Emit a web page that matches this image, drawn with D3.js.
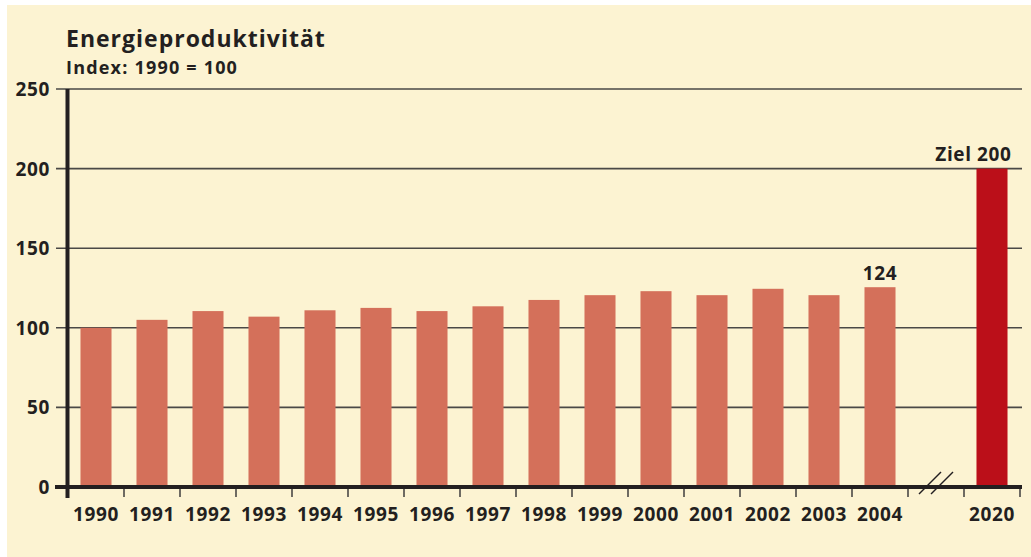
<!DOCTYPE html>
<html>
  <head>
    <style>
      body { margin: 0; background: #fff; }
      text { font-family: "Open Sans", sans-serif; font-weight: 700; fill: #231f20; }
    </style>
  </head>

  <body>

    <svg class="surface" width="1031" height="557"></svg>

    <script src="https://cdn.jsdelivr.net/npm/d3@7/dist/d3.min.js" charset="utf-8"></script>
    <script>

      // data
      const years = ['1990', '1991', '1992', '1993', '1994', '1995', '1996', '1997',
                     '1998', '1999', '2000', '2001', '2002', '2003', '2004', '2020']
      const values = [100, 105, 110.5, 107, 111, 112.5, 110.5, 113.5,
                      117.5, 120.5, 123, 120.5, 124.5, 120.5, 125.5, 200]
      const slots = ['1990', '1991', '1992', '1993', '1994', '1995', '1996', '1997',
                     '1998', '1999', '2000', '2001', '2002', '2003', '2004', 'break', '2020']
      const yTicks = [0, 50, 100, 150, 200, 250]
      const labelYears = ['2004', '2020']
      const labelTexts = ['124', 'Ziel 200']
      const title = 'Energieproduktivität'
      const subtitle = 'Index: 1990 = 100'

      const surface = d3.select('.surface')

      const x = d3.scaleBand()
        .domain(slots)
        .range([68, 1020])
        .paddingInner(0.446)
        .paddingOuter(0.223)

      const y = d3.scaleLinear()
        .domain([0, 250])
        .range([487, 89])

      const step = x.step()

      surface.append('rect')
        .attr('x', 7).attr('y', 5)
        .attr('width', 1031 - 7).attr('height', 557 - 5)
        .attr('fill', '#fcf3d2')

      // grid lines
      surface.selectAll('line.grid')
        .data(yTicks.filter(d => d > 0))
        .enter()
        .append('line')
          .attr('class', 'grid')
          .attr('x1', 56)
          .attr('x2', 1022)
          .attr('y1', d => y(d))
          .attr('y2', d => y(d))
          .attr('stroke', '#4a4846')
          .attr('stroke-width', 1.6)

      // bars
      surface.selectAll('rect.bar')
        .data(years)
        .enter()
        .append('rect')
          .attr('class', 'bar')
          .attr('x', d => x(d))
          .attr('width', x.bandwidth())
          .attr('y', (d, i) => y(values[i]))
          .attr('height', (d, i) => y(0) - y(values[i]))
          .attr('fill', d => d === '2020' ? '#bb0f19' : '#d4705a')

      // x ticks at the band boundaries
      const bounds = slots.map(d => x(d) + x.bandwidth() + (step - x.bandwidth()) / 2)
      surface.selectAll('line.xtick')
        .data(bounds)
        .enter()
        .append('line')
          .attr('class', 'xtick')
          .attr('x1', d => d).attr('x2', d => d)
          .attr('y1', y(0)).attr('y2', y(0) + 10)
          .attr('stroke', '#4a4846')
          .attr('stroke-width', 1.6)

      // zero line and y axis
      surface.append('line')
        .attr('x1', 55).attr('x2', 1022)
        .attr('y1', y(0)).attr('y2', y(0))
        .attr('stroke', '#231f20')
        .attr('stroke-width', 4)

      surface.append('line')
        .attr('x1', 67.5).attr('x2', 67.5)
        .attr('y1', y(250)).attr('y2', y(0) + 11)
        .attr('stroke', '#231f20')
        .attr('stroke-width', 4)

      // axis break marks
      const bx = x('break') + x.bandwidth() / 2
      surface.selectAll('line.brk')
        .data([-6, 6])
        .enter()
        .append('line')
          .attr('class', 'brk')
          .attr('x1', d => bx + d - 11).attr('y1', y(0) + 7)
          .attr('x2', d => bx + d + 11).attr('y2', y(0) - 15)
          .attr('stroke', '#231f20')
          .attr('stroke-width', 1.4)

      // tick labels
      surface.selectAll('text.ylab')
        .data(yTicks)
        .enter()
        .append('text')
          .attr('class', 'ylab')
          .attr('x', 50)
          .attr('y', d => y(d) + 7)
          .attr('text-anchor', 'end')
          .attr('font-size', 19)
          .attr('letter-spacing', 0.6)
          .text(d => d)

      surface.selectAll('text.xlab')
        .data(years)
        .enter()
        .append('text')
          .attr('class', 'xlab')
          .attr('x', d => x(d) + x.bandwidth() / 2)
          .attr('y', 521)
          .attr('text-anchor', 'middle')
          .attr('font-size', 19)
          .attr('letter-spacing', 0.6)
          .text(d => d)

      // value labels
      surface.append('text')
        .attr('x', x(labelYears[0]) + x.bandwidth() / 2)
        .attr('y', y(values[years.indexOf(labelYears[0])]) - 7)
        .attr('text-anchor', 'middle')
        .attr('font-size', 19)
        .attr('letter-spacing', 0.6)
        .text(labelTexts[0])

      surface.append('text')
        .attr('x', x(labelYears[1]) + x.bandwidth() + 4)
        .attr('y', y(values[years.indexOf(labelYears[1])]) - 8)
        .attr('text-anchor', 'end')
        .attr('font-size', 19)
        .attr('letter-spacing', 0.6)
        .text(labelTexts[1])

      // title
      surface.append('text')
        .attr('x', 66).attr('y', 47)
        .attr('font-size', 23)
        .attr('letter-spacing', 1)
        .text(title)

      surface.append('text')
        .attr('x', 66).attr('y', 74)
        .attr('font-size', 18)
        .attr('letter-spacing', 1.2)
        .text(subtitle)

    </script>
  </body>

</html>
